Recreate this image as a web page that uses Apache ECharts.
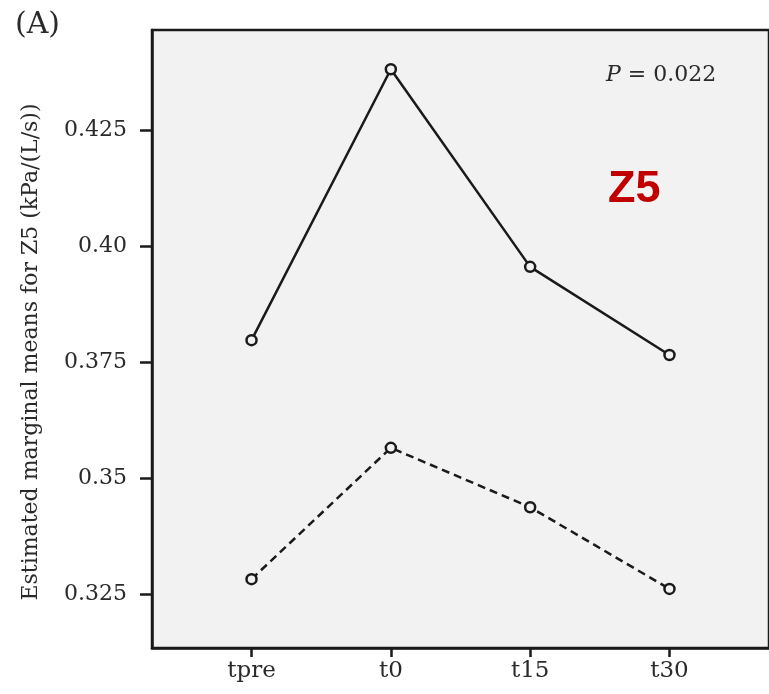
<!DOCTYPE html>
<html>
<head>
<meta charset="utf-8">
<script src="https://cdn.jsdelivr.net/npm/echarts@6/dist/echarts.min.js"></script>
<style>html,body{margin:0;padding:0;background:#fff;}#c{width:769px;height:694px;}</style>
</head>
<body>
<div id="c"></div>
<script>
var categories = ['tpre', 't0', 't15', 't30'];
var solidValues = [0.3797, 0.4381, 0.3955, 0.3765];
var dashedValues = [0.3282, 0.3565, 0.3437, 0.3261];
var yTicks = [0.325, 0.35, 0.375, 0.40, 0.425];
var yTickLabels = ['0.325', '0.35', '0.375', '0.40', '0.425'];

var chart = echarts.init(document.getElementById('c'), null, {renderer: 'canvas'});
var serif = '"DejaVu Serif", "Liberation Serif", serif';
function pts(vals){ return vals.map(function(v,i){ return [i, v]; }); }
var lineCol = '#1a1a1a';
var txtCol = '#2a2a2a';

chart.setOption({
  animation: false,
  backgroundColor: '#ffffff',
  title: [
    {text: '(A)', left: 10, top: 5, textStyle: {fontFamily: serif, fontSize: 30, fontWeight: 'normal', color: txtCol}},
    {text: '{i|P} = 0.022', left: 601, top: 59, textStyle: {fontFamily: serif, fontSize: 22, fontWeight: 'normal', color: txtCol,
      rich: {i: {fontFamily: serif, fontStyle: 'italic', fontSize: 22, color: txtCol}}}},
    {text: 'Z5', left: 603, top: 162, textStyle: {fontFamily: '"Liberation Sans", sans-serif', fontSize: 45, fontWeight: 'bold', color: '#c00000'}}
  ],
  grid: {left: 152, top: 30, right: -4, bottom: 46, show: true, backgroundColor: '#f2f2f2', borderColor: lineCol, borderWidth: 2.5},
  xAxis: {
    type: 'value', min: -100/140, max: 3 + (773-673)/140,
    splitLine: {show: false},
    axisLine: {show: true, onZero: false, lineStyle: {color: lineCol, width: 2.5}},
    axisTick: {show: true, customValues: [0,1,2,3], length: 9, inside: false, lineStyle: {color: lineCol, width: 2.5}},
    axisLabel: {customValues: [0,1,2,3], margin: 12, fontFamily: serif, fontSize: 23, color: txtCol,
      formatter: function(v){ return categories[Math.round(v)]; }}
  },
  yAxis: {
    type: 'value', min: 0.31336, max: 0.44655,
    name: 'Estimated marginal means for Z5 (kPa/(L/s))',
    nameLocation: 'middle', nameGap: 110, nameRotate: 90,
    nameTextStyle: {fontFamily: serif, fontSize: 22, color: txtCol, padding: [0, 26, 0, 0]},
    splitLine: {show: false},
    axisLine: {show: true, onZero: false, lineStyle: {color: lineCol, width: 2.5}},
    axisTick: {show: true, customValues: yTicks, length: 12, lineStyle: {color: lineCol, width: 2.5}},
    axisLabel: {customValues: yTicks, margin: 25, fontFamily: serif, fontSize: 22, color: txtCol,
      formatter: function(v){ var k = yTicks.indexOf(v); return k >= 0 ? yTickLabels[k] : ''; }}
  },
  series: [
    {type: 'line', data: pts(solidValues), symbol: 'circle', symbolSize: 10,
      lineStyle: {color: lineCol, width: 2.5, type: 'solid'},
      itemStyle: {color: '#f2f2f2', borderColor: lineCol, borderWidth: 2.5}},
    {type: 'line', data: pts(dashedValues), symbol: 'circle', symbolSize: 10,
      lineStyle: {color: lineCol, width: 2.5, type: [8, 5]},
      itemStyle: {color: '#f2f2f2', borderColor: lineCol, borderWidth: 2.5}}
  ]
});
</script>
</body>
</html>
